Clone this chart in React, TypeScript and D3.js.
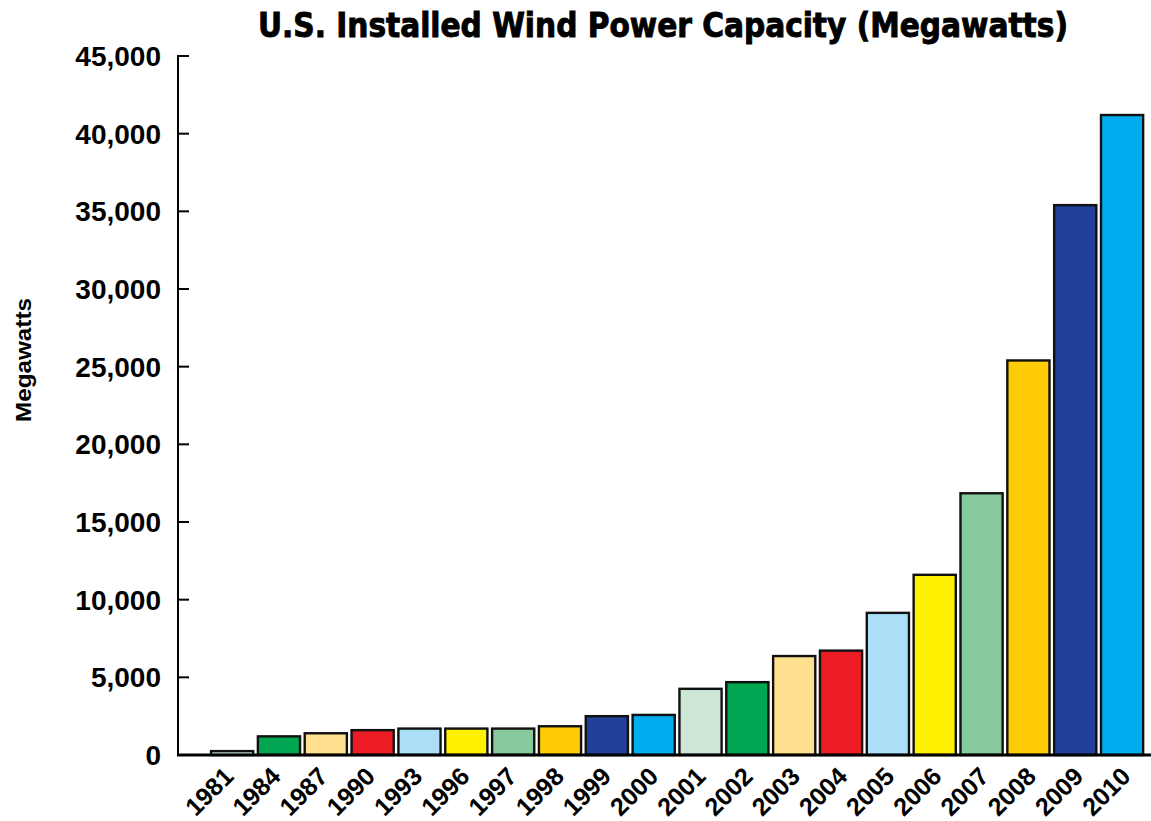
import React from "react";
import * as d3 from "d3";

const years = ["1981","1984","1987","1990","1993","1996","1997","1998","1999","2000","2001","2002","2003","2004","2005","2006","2007","2008","2009","2010"];
const capacity = [250,1200,1400,1600,1700,1700,1700,1850,2500,2580,4260,4690,6370,6720,9150,11600,16850,25400,35400,41200];
const barColors = ["#cde6d6","#00a651","#fee08f","#ed1c24","#abdff8","#fff200","#86c99c","#ffcb05","#21409a","#00aeef","#cde6d6","#00a651","#fee08f","#ed1c24","#abdff8","#fff200","#86c99c","#ffcb05","#21409a","#00aeef"];
const yTicks = [0,5000,10000,15000,20000,25000,30000,35000,40000,45000];

const W = 1151, H = 821;
const SANS = "Liberation Sans, Arimo, Arial, Helvetica, sans-serif";

export default function App() {
  const x = d3.scaleBand<string>().domain(years).range([208.7, 1145.5]).paddingInner(0.1).paddingOuter(0.05);
  const xLabel = d3.scalePoint<string>().domain(years).range([235, 1132]);
  const y = d3.scaleLinear().domain([0, 45000]).range([755, 56]);
  const fmt = d3.format(",");
  return (
    <svg width={W} height={H} style={{ position: "absolute", left: 0, top: 0, background: "#fff" }}>
      <text x={663} y={37} textAnchor="middle" style={{ fontFamily: "DejaVu Sans Condensed, DejaVu Sans, sans-serif", fontWeight: "bold", fontSize: 34 }} stroke="#000" strokeWidth={0.9} textLength={810} lengthAdjust="spacingAndGlyphs">U.S. Installed Wind Power Capacity (Megawatts)</text>
      <text transform={`translate(31,360) rotate(-90)`} textAnchor="middle" style={{ fontFamily: SANS, fontWeight: "bold", fontSize: 22 }} textLength={124} lengthAdjust="spacingAndGlyphs">Megawatts</text>
      {yTicks.map((t) => (
        <g key={t}>
          <line x1={178} x2={189} y1={y(t)} y2={y(t)} stroke="#000" strokeWidth={2} />
          <text x={161} y={y(t)} dy="0.36em" textAnchor="end" style={{ fontFamily: SANS, fontWeight: "bold", fontSize: 28 }}>{fmt(t)}</text>
        </g>
      ))}
      {years.map((yr, i) => (
        <rect key={yr} x={x(yr)} y={y(capacity[i])} width={x.bandwidth()} height={y(0) - y(capacity[i])} fill={barColors[i]} stroke="#111" strokeWidth={2.4} />
      ))}
      <line x1={178} x2={178} y1={55} y2={756} stroke="#000" strokeWidth={2} />
      <line x1={177} x2={1151} y1={755} y2={755} stroke="#000" strokeWidth={3} />
      {years.map((yr) => (
        <text key={yr} transform={`translate(${xLabel(yr)},${778}) rotate(-45)`} textAnchor="end" style={{ fontFamily: SANS, fontWeight: "bold", fontSize: 25 }}>{yr}</text>
      ))}
    </svg>
  );
}
